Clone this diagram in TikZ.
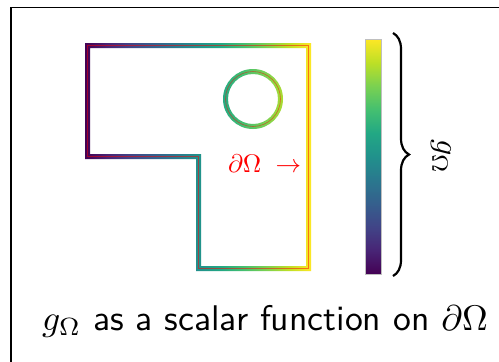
\documentclass[tikz,border=0pt]{standalone}
\usetikzlibrary{decorations.pathreplacing}
\definecolor{vir0}{HTML}{440154}
\definecolor{vir1}{HTML}{482475}
\definecolor{vir2}{HTML}{414487}
\definecolor{vir3}{HTML}{355F8D}
\definecolor{vir4}{HTML}{2A788E}
\definecolor{vir5}{HTML}{21918C}
\definecolor{vir6}{HTML}{22A884}
\definecolor{vir7}{HTML}{44BF70}
\definecolor{vir8}{HTML}{7AD151}
\definecolor{vir9}{HTML}{BDDF26}
\definecolor{vir10}{HTML}{FDE725}
\pgfdeclarehorizontalshading{viridisH}{100bp}{color(0bp)=(vir0); color(25bp)=(vir0); color(30bp)=(vir1); color(35bp)=(vir2); color(40bp)=(vir3); color(45bp)=(vir4); color(50bp)=(vir5); color(55bp)=(vir6); color(60bp)=(vir7); color(65bp)=(vir8); color(70bp)=(vir9); color(75bp)=(vir10); color(100bp)=(vir10)}
\pgfdeclareverticalshading{viridisV}{100bp}{color(0bp)=(vir0); color(25bp)=(vir0); color(30bp)=(vir1); color(35bp)=(vir2); color(40bp)=(vir3); color(45bp)=(vir4); color(50bp)=(vir5); color(55bp)=(vir6); color(60bp)=(vir7); color(65bp)=(vir8); color(70bp)=(vir9); color(75bp)=(vir10); color(100bp)=(vir10)}
\tikzset{
  frameline/.style={draw=black, line width=1.2pt},
  redline/.style={draw=red, line width=0.6pt, opacity=0.5},
  bracestyle/.style={draw=black, line width=2.2pt, decorate, decoration={brace, amplitude=16pt}},
  lbl/.style={inner sep=0pt, outer sep=0pt}
}
\begin{document}
\begin{tikzpicture}[x=1pt,y=-1pt]
\useasboundingbox (0,0) rectangle (499,362);
\clip (0,0) rectangle (499,362);
\fill[white] (0,0) rectangle (499,362);
% frame
\draw[frameline] (11,380) -- (11,7.3) -- (520,7.3);
% boundary of domain, shaded as a ring
\shade[shading=viridisH, even odd rule]
  (85,43) -- (311,43) -- (311,271) -- (196,271) -- (196,159) -- (85,159) -- cycle
  (90,48) -- (306,48) -- (306,266) -- (201,266) -- (201,154) -- (90,154) -- cycle
  (253,99) circle[radius=30]
  (253,99) circle[radius=25];
% thin red centre line
\draw[redline] (87.5,45.5) -- (308.5,45.5) -- (308.5,268.5) -- (198.5,268.5) -- (198.5,156.5) -- (87.5,156.5) -- cycle;
\draw[redline] (253,99) circle[radius=27.5];
% label
\node[lbl, anchor=base west, text=red] (dom) at (228,172) {\resizebox{73pt}{!}{$\partial\Omega\;\rightarrow$}};
% colour bar
\node[lbl, anchor=north west] (bar) at (365,39) {\tikz[x=1pt,y=1pt]\shade[shading=viridisV, draw=black!25, line width=0.4pt] (0,0) rectangle (16,235);};
% brace
\coordinate (btop) at (393,33);
\coordinate (bbot) at (393,276);
\draw[bracestyle] (btop) -- (bbot);
\node[lbl, rotate=-90] (gl) at (441,157) {\resizebox{35pt}{!}{$g_\Omega$}};
% caption
\node[lbl, anchor=base west] (cap) at (42,330) {\resizebox{446pt}{!}{$g_\Omega$ \textsf{as a scalar function on} $\partial\Omega$}};
\end{tikzpicture}
\end{document}
